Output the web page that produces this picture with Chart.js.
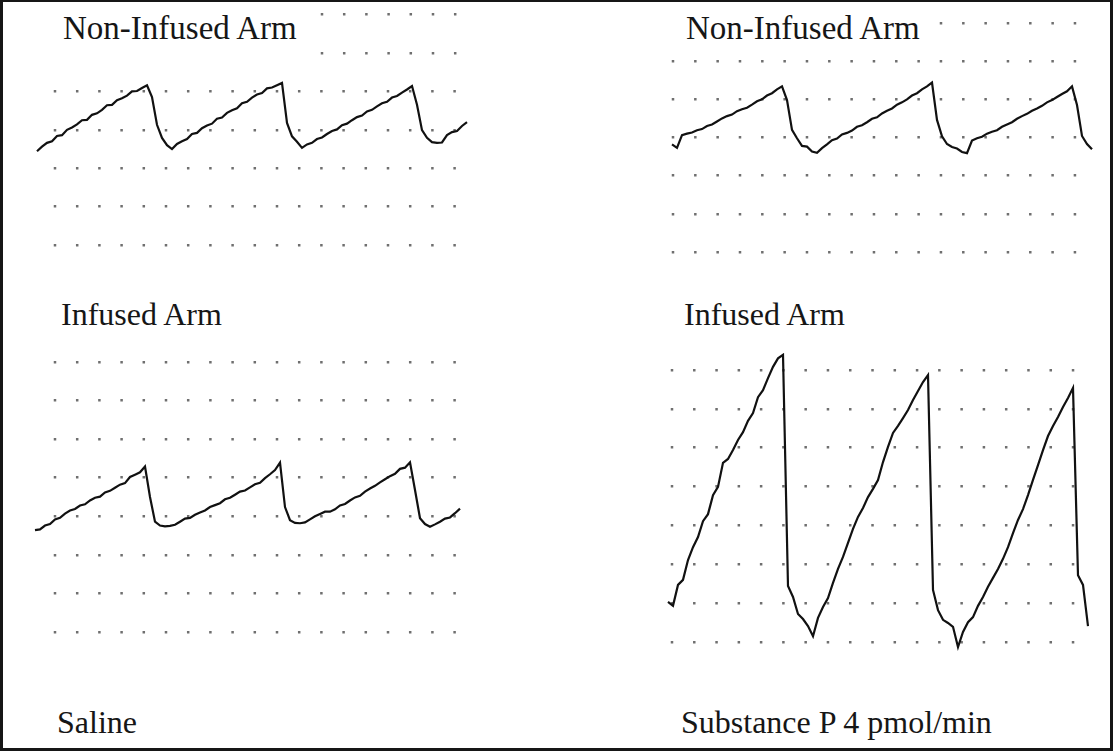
<!DOCTYPE html>
<html>
<head>
<meta charset="utf-8">
<title>Forearm plethysmography: saline vs substance P</title>
<script src="https://cdn.jsdelivr.net/npm/chart.js@4.4.0/dist/chart.umd.min.js"></script>
<style>
  html, body { margin: 0; padding: 0; background: #fff; }
  #sheet { position: relative; width: 1115px; height: 752px; overflow: hidden; background: #fff; }
  #frame {
    position: absolute; left: 0; top: 0;
    width: 1107px; height: 746px;
    border: solid #161616; border-width: 2px 3px 3px 3px;
  }
  #sheet canvas { position: absolute; }
  .lbl {
    position: absolute; white-space: nowrap; color: #161616;
    font-family: "Liberation Serif", "Times New Roman", serif;
  }
</style>
</head>
<body>
<div id="sheet">
  <div id="frame"></div>
  <div class="lbl" style="left:63px; top:12px; font-size:33px; line-height:33px;">Non-Infused Arm</div>
  <div class="lbl" style="left:686px; top:12px; font-size:33px; line-height:33px;">Non-Infused Arm</div>
  <div class="lbl" style="left:61px; top:298px; font-size:32px; line-height:32px;">Infused Arm</div>
  <div class="lbl" style="left:684px; top:298px; font-size:32px; line-height:32px;">Infused Arm</div>
  <div class="lbl" style="left:57px; top:706px; font-size:32px; line-height:32px;">Saline</div>
  <div class="lbl" style="left:681px; top:706px; font-size:32px; line-height:32px;">Substance P 4 pmol/min</div>
</div>

<script>
// Forearm volume traces (venous occlusion), one sample every 5 px of chart paper.
// Units: tenths of a chart-paper division.

// Saline, non-infused arm
const salineControl = [
  24.4, 25.6, 26.6, 27.0, 28.4, 28.6, 30.0, 30.6, 31.4, 32.5,
  32.6, 33.9, 34.3, 35.2, 36.4, 36.5, 37.7, 38.2, 38.9, 40.0,
  40.1, 40.9, 41.6, 38.5, 31.3, 27.9, 26.0, 25.0, 26.3, 27.0,
  27.6, 28.9, 29.2, 30.4, 31.1, 31.6, 32.9, 33.2, 34.4, 35.1,
  35.6, 36.9, 37.3, 38.4, 39.2, 39.6, 40.8, 41.0, 41.6, 42.2,
  31.8, 28.3, 26.9, 25.3, 26.2, 26.6, 27.6, 28.0, 28.9, 29.7,
  30.1, 31.2, 31.6, 32.5, 33.3, 33.7, 34.8, 35.2, 36.1, 36.9,
  37.3, 38.4, 38.8, 39.7, 40.5, 41.4, 36.5, 29.9, 27.9, 26.8,
  26.6, 26.7, 28.6, 29.4, 29.7, 31.0, 32.0
];

// Substance P, non-infused arm
const subPControl = [
  28.2, 27.3, 30.6, 31.0, 31.3, 31.9, 32.2, 33.0, 33.4, 34.2,
  35.0, 35.6, 36.0, 36.9, 37.4, 37.8, 38.6, 39.5, 40.0, 41.0,
  41.6, 42.6, 43.4, 39.8, 32.0, 29.8, 27.8, 27.6, 26.3, 26.0,
  27.2, 28.2, 29.3, 29.7, 30.8, 31.2, 31.8, 32.8, 33.2, 34.0,
  34.9, 35.3, 36.3, 37.0, 37.6, 38.6, 39.2, 40.0, 41.0, 41.6,
  42.6, 43.4, 44.4, 34.6, 30.3, 28.3, 27.5, 27.1, 26.2, 25.9,
  29.2, 29.8, 30.2, 31.0, 31.5, 31.9, 32.8, 33.4, 34.0, 34.9,
  35.6, 36.2, 37.0, 37.6, 38.3, 39.2, 39.8, 40.6, 41.4, 42.1,
  43.4, 38.5, 30.4, 28.3, 26.9
];

// Saline, infused arm
const salineInfused = [
  26.4, 26.6, 27.6, 28.0, 29.2, 29.6, 30.7, 31.5, 31.9, 32.8,
  33.1, 34.1, 34.8, 35.1, 36.2, 36.6, 37.4, 38.2, 38.6, 40.2,
  40.8, 41.4, 42.9, 35.0, 28.6, 27.6, 27.4, 27.5, 27.8, 28.6,
  29.4, 29.6, 30.4, 31.0, 31.5, 32.4, 32.9, 33.4, 34.4, 34.8,
  35.6, 36.4, 36.7, 37.5, 38.3, 38.7, 39.9, 40.9, 42.0, 43.9,
  32.4, 29.0, 28.3, 28.2, 28.4, 29.2, 30.0, 30.6, 31.2, 31.2,
  31.8, 32.8, 33.2, 34.1, 34.9, 35.3, 36.4, 37.2, 37.9, 38.8,
  39.6, 40.4, 41.0, 42.3, 42.6, 44.0, 36.8, 29.5, 28.0, 27.3,
  27.9, 28.6, 29.4, 29.7, 30.8, 32.0
];

// Substance P 4 pmol/min, infused arm
const subPInfused = [
  10.3,  9.3, 14.7, 16.0, 21.1, 24.4, 27.0, 31.1, 32.9, 37.8,
  39.9, 46.1, 47.1, 49.4, 52.0, 54.0, 56.9, 58.9, 63.0, 64.8,
  67.9, 70.8, 73.0, 73.9, 14.4, 11.6,  7.2,  5.9,  4.1,  1.5,
   6.2,  9.0, 11.3, 15.2, 18.8, 21.9, 25.5, 29.1, 32.2, 34.5,
  37.3, 39.4, 41.7, 46.3, 50.2, 53.8, 55.6, 57.6, 59.7, 62.3,
  64.6, 66.9, 68.7, 13.4,  8.2,  5.7,  4.9,  3.9, -1.3,  2.6,
   5.1,  6.4,  9.3, 11.6, 14.2, 16.5, 18.8, 21.4, 24.4, 28.0,
  31.4, 34.2, 37.8, 41.7, 45.5, 49.4, 53.0, 55.6, 57.9, 60.5,
  62.8, 65.4, 17.2, 14.7,  4.1
];

// Dotted chart-paper rows (one per division)
const rowsUpper = [0, 10, 20, 30, 40, 50, 60];
const rowsLower = [0, 10, 20, 30, 40, 50, 60, 70];

const TRACE = '#111111';
const DOT = 'rgba(55, 55, 55, 0.72)';
const SAMPLE_PX = 5;

// Where each strip of paper sits on the sheet
const panels = [
  { volume: salineControl, rows: rowsUpper, left: 34, right: 470, top: 5, bottom: 259,
    firstSampleX: 37, zeroY: 245, unitPx: 3.84, dotX: 55, dotStep: 22.2, rowStart: { 50: 322, 60: 322 } },
  { volume: subPControl, rows: rowsUpper, left: 665, right: 1096, top: 15, bottom: 262,
    firstSampleX: 672, zeroY: 252, unitPx: 3.817, dotX: 673, dotStep: 22.33, rowStart: { 60: 941 } },
  { volume: salineInfused, rows: rowsLower, left: 34, right: 470, top: 352, bottom: 645,
    firstSampleX: 35, zeroY: 632, unitPx: 3.857, dotX: 55, dotStep: 22.2, rowStart: {} },
  { volume: subPInfused, rows: rowsLower, left: 660, right: 1093, top: 345, bottom: 655,
    firstSampleX: 668, zeroY: 642, unitPx: 3.886, dotX: 672, dotStep: 22.28, rowStart: {} }
];

// Dash pattern that leaves a small dot every `step` px, starting at `startX`
function dotDash(startX, step, left, width) {
  const dot = 2.5;
  const lead = startX - dot / 2 - left;
  const dash = [0, lead];
  for (let x = lead; x < width + step; x += step) dash.push(dot, step - dot);
  return dash;
}

const sheet = document.getElementById('sheet');

panels.forEach(p => {
  const canvas = document.createElement('canvas');
  const width = p.right - p.left;
  canvas.width = width;
  canvas.height = p.bottom - p.top;
  canvas.style.left = p.left + 'px';
  canvas.style.top = p.top + 'px';
  sheet.appendChild(canvas);

  new Chart(canvas, {
    type: 'line',
    data: {
      datasets: [{
        data: p.volume.map((v, i) => ({ x: i, y: v })),
        borderColor: TRACE,
        borderWidth: 2.2,
        pointRadius: 0,
        tension: 0
      }]
    },
    options: {
      responsive: false,
      animation: false,
      devicePixelRatio: 1,
      layout: { padding: 0, autoPadding: false },
      plugins: { legend: { display: false }, tooltip: { enabled: false } },
      scales: {
        x: {
          type: 'linear',
          display: false,
          min: (p.left - p.firstSampleX) / SAMPLE_PX,
          max: (p.right - p.firstSampleX) / SAMPLE_PX
        },
        y: {
          type: 'linear',
          min: (p.zeroY - p.bottom) / p.unitPx,
          max: (p.zeroY - p.top) / p.unitPx,
          afterBuildTicks: scale => { scale.ticks = p.rows.map(v => ({ value: v })); },
          ticks: { display: false },
          grid: { color: DOT, lineWidth: 2.5, drawTicks: false },
          border: {
            display: false,
            dash: ctx => {
              if (!ctx.tick) return [];
              const start = p.rowStart[ctx.tick.value] || p.dotX;
              return dotDash(start, p.dotStep, p.left, width);
            },
            dashOffset: 0
          }
        }
      }
    }
  });
});
</script>
</body>
</html>
